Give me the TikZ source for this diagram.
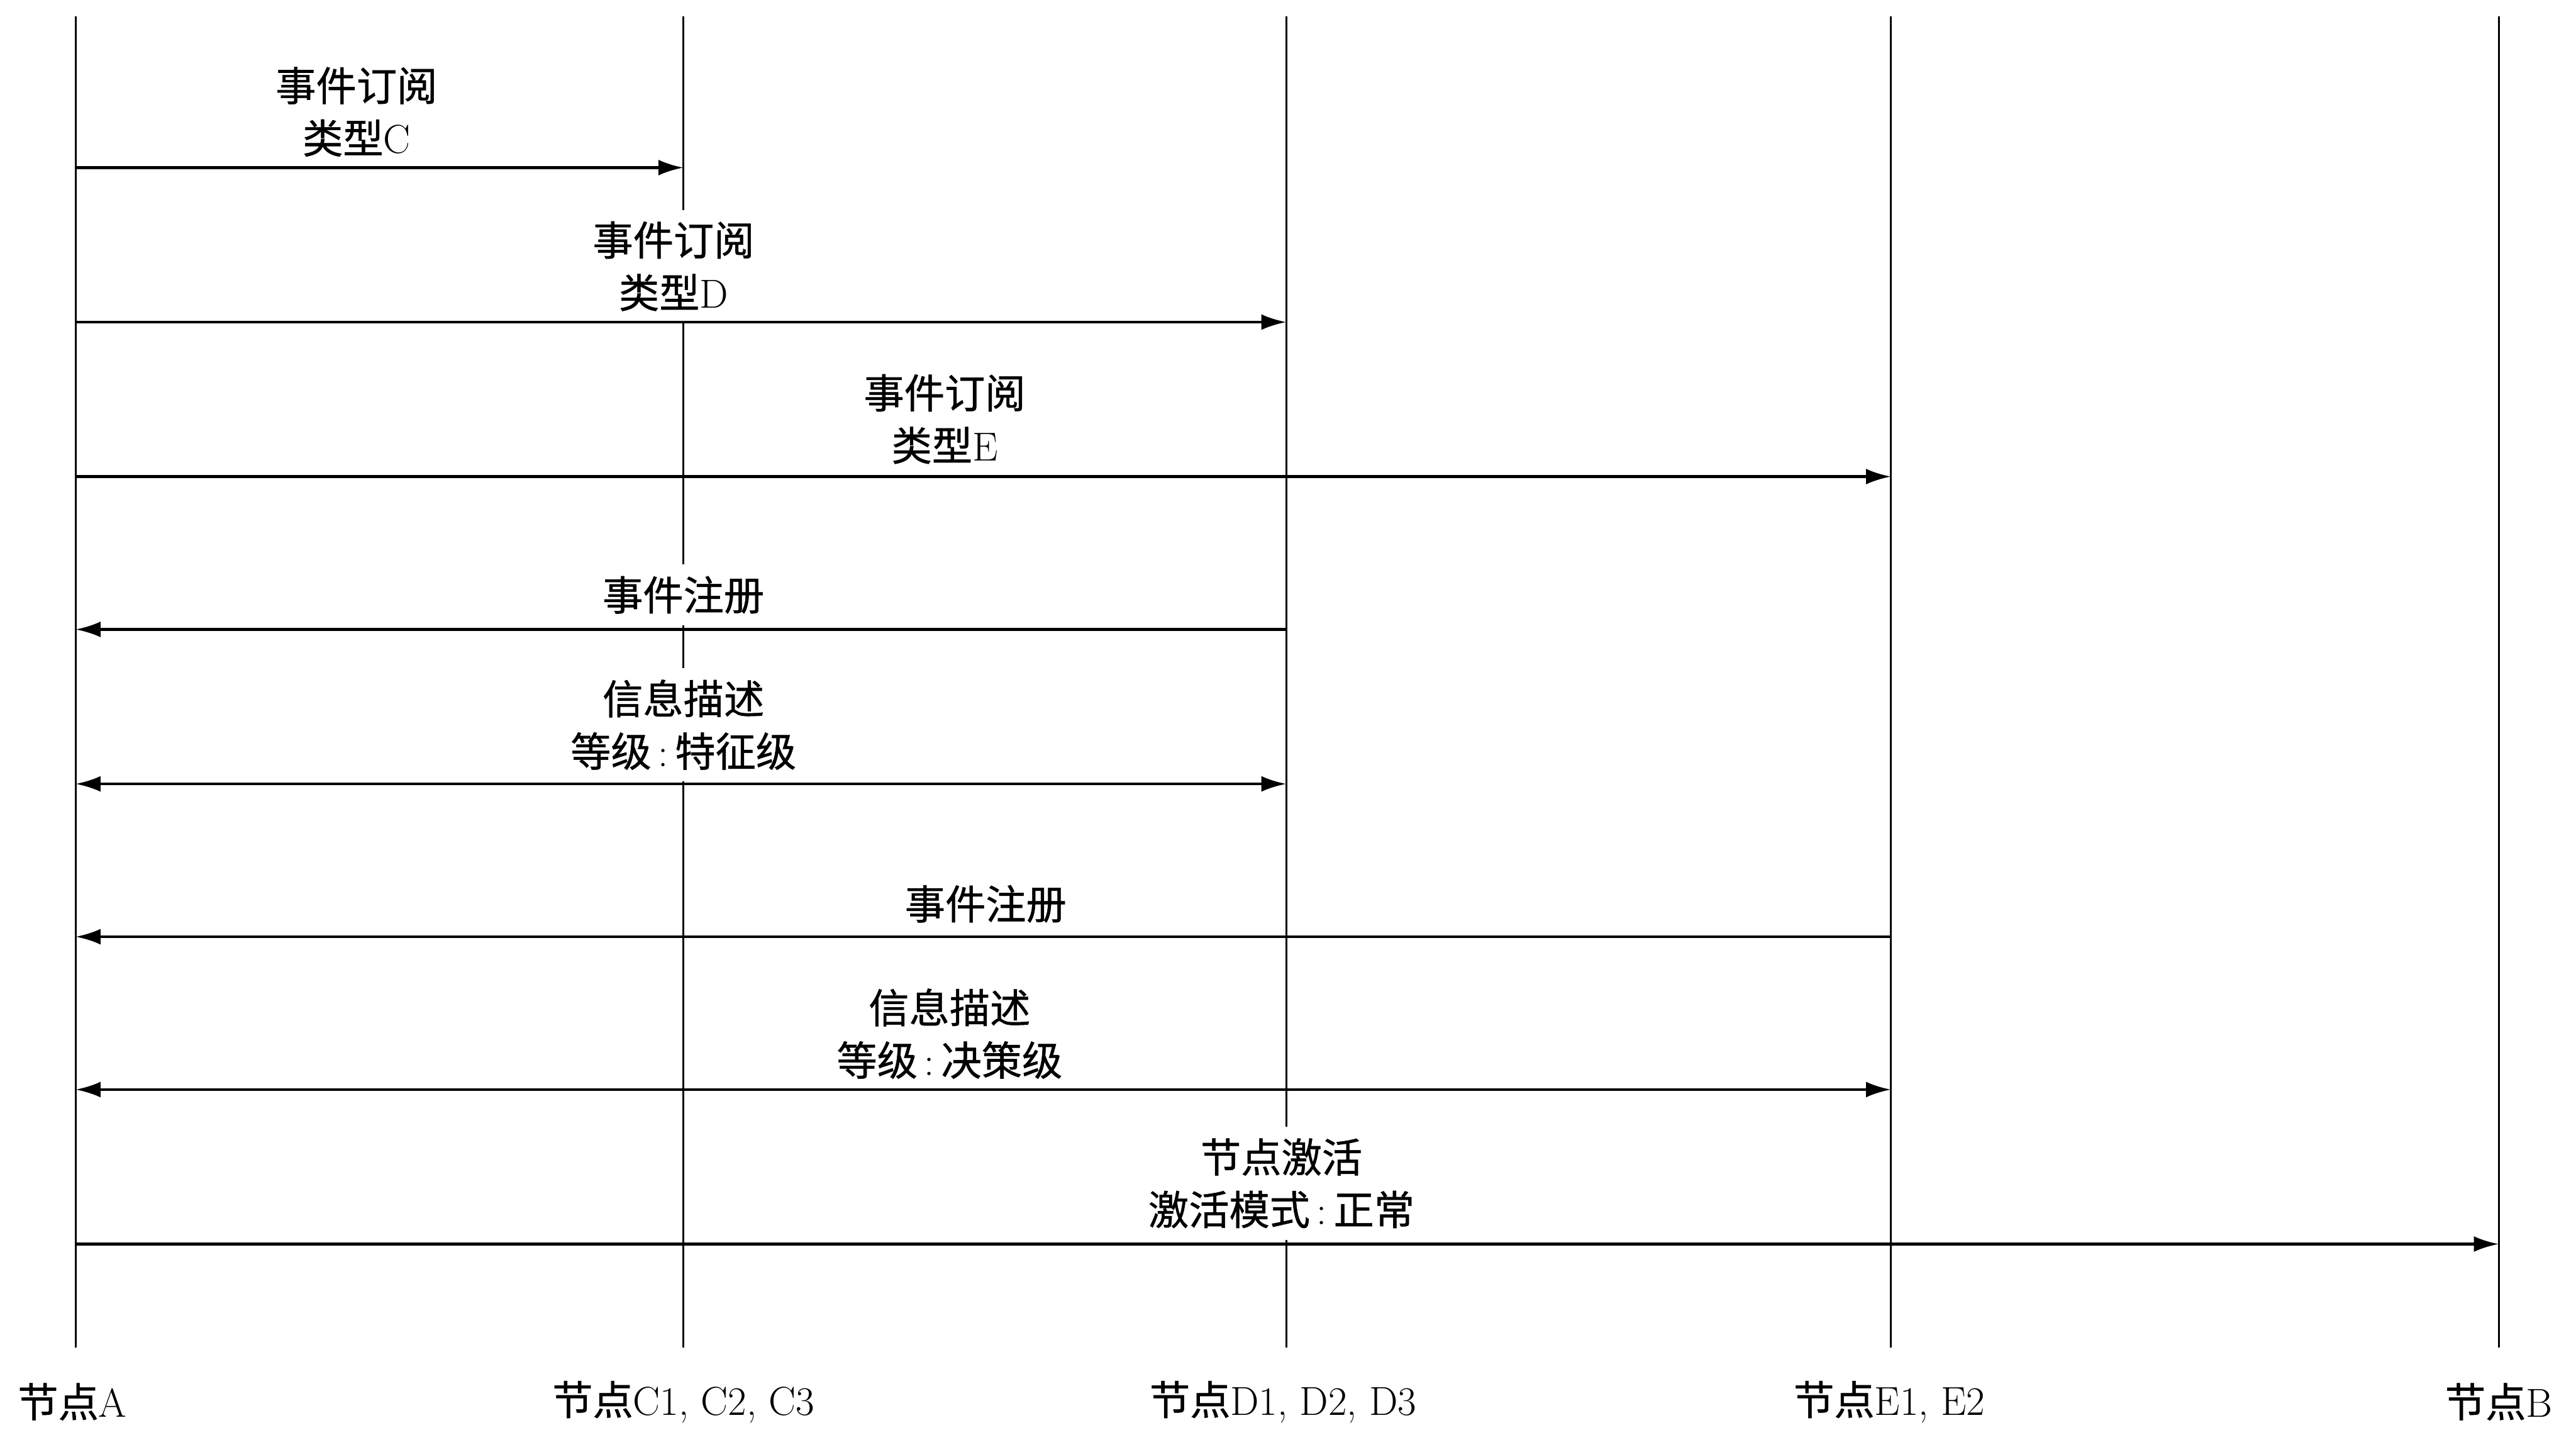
\documentclass[tikz,border=0pt]{standalone}
\usepackage{fontspec}
\newfontfamily\cjk[RawFeature={embolden=0.8}]{Noto Sans CJK SC}
\usetikzlibrary{arrows.meta}
\begin{document}
\begin{tikzpicture}[x=0.025cm,y=-0.025cm,
  lifeline/.style={line width=0.8pt},
  msg/.style={line width=1.2pt,-{Latex[length=0.38cm,width=0.24cm]}},
  bimsg/.style={line width=1.2pt,{Latex[length=0.38cm,width=0.24cm]}-{Latex[length=0.38cm,width=0.24cm]}},
  lbl/.style={fill=white,inner xsep=3pt,inner ysep=5pt,align=center,font=\fontsize{17.5}{22.7}\selectfont},
  nodename/.style={inner sep=0pt,font=\fontsize{17.5}{21}\selectfont}]
\useasboundingbox[fill=white] (0,0) rectangle (1568,873);

% lifeline ends
\coordinate (At) at (46,10);   \coordinate (Ab) at (46,820);
\coordinate (Ct) at (416,10);  \coordinate (Cb) at (416,820);
\coordinate (Dt) at (783,10);  \coordinate (Db) at (783,820);
\coordinate (Et) at (1151,10); \coordinate (Eb) at (1151,820);
\coordinate (Bt) at (1521,10); \coordinate (Bb) at (1521,820);

\draw[lifeline] (At) -- (Ab);
\draw[lifeline] (Ct) -- (Cb);
\draw[lifeline] (Dt) -- (Db);
\draw[lifeline] (Et) -- (Eb);
\draw[lifeline] (Bt) -- (Bb);

% names
\node[nodename] (nA) at (44,853) {{\cjk 节点}A};
\node[nodename] (nC) at (416,853) {{\cjk 节点}C1, C2, C3};
\node[nodename] (nD) at (781,853) {{\cjk 节点}D1, D2, D3};
\node[nodename] (nE) at (1150,853) {{\cjk 节点}E1, E2};
\node[nodename] (nB) at (1521,853) {{\cjk 节点}B};

% rows
\coordinate (r1) at (0,102);
\coordinate (r2) at (0,196);
\coordinate (r3) at (0,290);
\coordinate (r4) at (0,383);
\coordinate (r5) at (0,477);
\coordinate (r6) at (0,570);
\coordinate (r7) at (0,663);
\coordinate (r8) at (0,757);

% labels
\node[lbl] (l1) at (217,68) {{\cjk 事件订阅}\\{\cjk 类型}C};
\node[lbl] (l2) at (410,162) {{\cjk 事件订阅}\\{\cjk 类型}D};
\node[lbl] (l3) at (575,255) {{\cjk 事件订阅}\\{\cjk 类型}E};
\node[lbl] (l4) at (416,362) {\cjk 事件注册};
\node[lbl] (l5) at (416,441) {{\cjk 信息描述}\\{\cjk 等级}\,:\,{\cjk 特征级}};
\node[lbl] (l6) at (600,550) {\cjk 事件注册};
\node[lbl] (l7) at (578,629) {{\cjk 信息描述}\\{\cjk 等级}\,:\,{\cjk 决策级}};
\node[lbl] (l8) at (780,720) {{\cjk 节点激活}\\{\cjk 激活模式}\,:\,{\cjk 正常}};

% messages
\draw[msg] (At |- r1) -- (Ct |- r1);
\draw[msg] (At |- r2) -- (Dt |- r2);
\draw[msg] (At |- r3) -- (Et |- r3);
\draw[msg] (Dt |- r4) -- (At |- r4);
\draw[bimsg] (At |- r5) -- (Dt |- r5);
\draw[msg] (Et |- r6) -- (At |- r6);
\draw[bimsg] (At |- r7) -- (Et |- r7);
\draw[msg] (At |- r8) -- (Bt |- r8);
\end{tikzpicture}
\end{document}
